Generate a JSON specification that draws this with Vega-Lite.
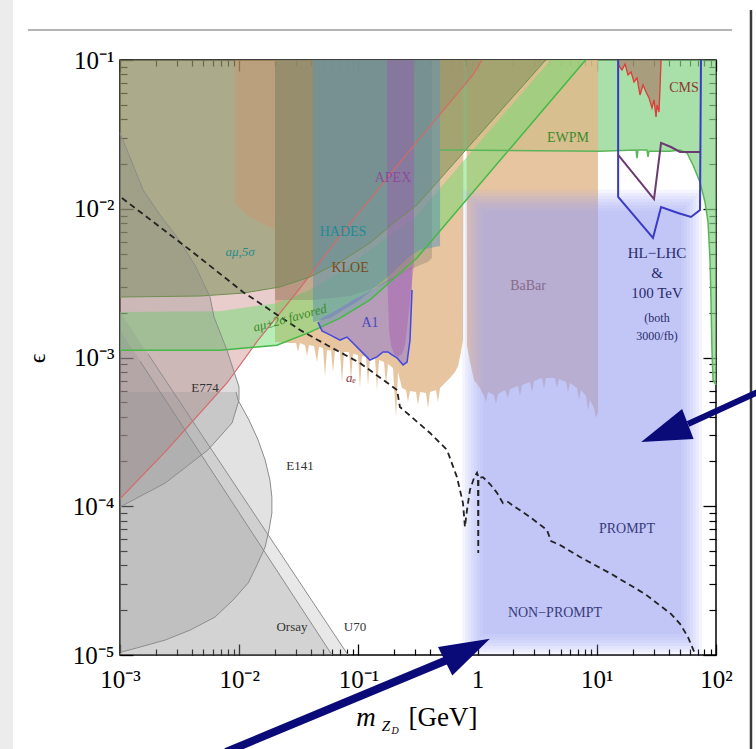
{
"$schema":"https://vega.github.io/schema/vega-lite/v6.json",
"width":596,"height":595,
"autosize":{"type":"none"},
"padding":{"left":120,"top":60,"right":40,"bottom":94},
"background":"white",
"config":{
 "view":{"stroke":"#000","strokeWidth":1.5},
 "axis":{"domain":false,"grid":false,"tickColor":"#000","labelFont":"Liberation Serif","labelColor":"#000","titleFont":"Liberation Serif","titleColor":"#000","titleFontWeight":"normal"},
 "text":{"font":"Liberation Serif"}
},
"datasets":{
 "ewpm":[{"m":0.484,"e":0.0248,"e2":0.1},{"m":10.6,"e":0.0244,"e2":0.1},{"m":21.33,"e":0.0248,"e2":0.1},{"m":21.75,"e":0.0219,"e2":0.1},{"m":22.16,"e":0.0248,"e2":0.1},{"m":26.37,"e":0.0248,"e2":0.1},{"m":26.89,"e":0.0223,"e2":0.1},{"m":27.42,"e":0.0244,"e2":0.1},{"m":41.1,"e":0.0244,"e2":0.1},{"m":49.9,"e":0.0248,"e2":0.1},{"m":57.1,"e":0.0237,"e2":0.1},{"m":64.1,"e":0.0197,"e2":0.1},{"m":73.4,"e":0.0151,"e2":0.1},{"m":80.8,"e":0.0111,"e2":0.1},{"m":85.7,"e":0.00815,"e2":0.1},{"m":89.1,"e":0.00452,"e2":0.1},{"m":90.8,"e":0.00244,"e2":0.1},{"m":92.5,"e":0.00112,"e2":0.1},{"m":94.4,"e":0.000706,"e2":0.1},{"m":100,"e":0.000654,"e2":0.1}],
 "babar":[{"m":0.01996,"e":0.00127,"e2":0.1},{"m":0.02668,"e":0.00125,"e2":0.1},{"m":0.02996,"e":0.00125,"e2":0.1},{"m":0.03113,"e":0.00109,"e2":0.1},{"m":0.03236,"e":0.00125,"e2":0.1},{"m":0.03565,"e":0.00121,"e2":0.1},{"m":0.03706,"e":0.001023,"e2":0.1},{"m":0.03852,"e":0.00121,"e2":0.1},{"m":0.04242,"e":0.001195,"e2":0.1},{"m":0.04495,"e":0.000933,"e2":0.1},{"m":0.04672,"e":0.00118,"e2":0.1},{"m":0.05047,"e":0.00116,"e2":0.1},{"m":0.05246,"e":0.000751,"e2":0.1},{"m":0.05452,"e":0.00112,"e2":0.1},{"m":0.0589,"e":0.00112,"e2":0.1},{"m":0.06122,"e":0.000799,"e2":0.1},{"m":0.06363,"e":0.001106,"e2":0.1},{"m":0.07008,"e":0.001106,"e2":0.1},{"m":0.07284,"e":0.000674,"e2":0.1},{"m":0.07571,"e":0.00109,"e2":0.1},{"m":0.08338,"e":0.00109,"e2":0.1},{"m":0.08667,"e":0.000706,"e2":0.1},{"m":0.09008,"e":0.001055,"e2":0.1},{"m":0.09922,"e":0.00104,"e2":0.1},{"m":0.1031,"e":0.000624,"e2":0.1},{"m":0.1072,"e":0.001023,"e2":0.1},{"m":0.1158,"e":0.00101,"e2":0.1},{"m":0.1204,"e":0.000654,"e2":0.1},{"m":0.1251,"e":0.000993,"e2":0.1},{"m":0.1378,"e":0.000993,"e2":0.1},{"m":0.1432,"e":0.000605,"e2":0.1},{"m":0.1489,"e":0.000962,"e2":0.1},{"m":0.164,"e":0.000933,"e2":0.1},{"m":0.1704,"e":0.000654,"e2":0.1},{"m":0.1771,"e":0.000904,"e2":0.1},{"m":0.1951,"e":0.00085,"e2":0.1},{"m":0.2068,"e":0.000392,"e2":0.1},{"m":0.2149,"e":0.000799,"e2":0.1},{"m":0.2322,"e":0.000624,"e2":0.1},{"m":0.2507,"e":0.000605,"e2":0.1},{"m":0.2607,"e":0.000502,"e2":0.1},{"m":0.2709,"e":0.000595,"e2":0.1},{"m":0.3042,"e":0.000587,"e2":0.1},{"m":0.3162,"e":0.00048,"e2":0.1},{"m":0.3287,"e":0.000587,"e2":0.1},{"m":0.369,"e":0.000577,"e2":0.1},{"m":0.3835,"e":0.000458,"e2":0.1},{"m":0.3987,"e":0.000587,"e2":0.1},{"m":0.4477,"e":0.000605,"e2":0.1},{"m":0.4654,"e":0.000502,"e2":0.1},{"m":0.4837,"e":0.000624,"e2":0.1},{"m":0.5431,"e":0.000684,"e2":0.1},{"m":0.587,"e":0.000728,"e2":0.1},{"m":0.6464,"e":0.000799,"e2":0.1},{"m":0.685,"e":0.000877,"e2":0.1},{"m":0.7258,"e":0.00109,"e2":0.1},{"m":0.7544,"e":0.00131,"e2":0.1},{"m":0.7617,"e":0.1,"e2":0.1},{"m":0.807,"e":0.1,"e2":0.1},{"m":0.8148,"e":0.00121,"e2":0.1},{"m":0.8637,"e":0.000933,"e2":0.1},{"m":0.9329,"e":0.000706,"e2":0.1},{"m":0.9885,"e":0.000663,"e2":0.1},{"m":1.047,"e":0.000624,"e2":0.1},{"m":1.132,"e":0.000551,"e2":0.1},{"m":1.176,"e":0.000502,"e2":0.1},{"m":1.222,"e":0.000587,"e2":0.1},{"m":1.372,"e":0.00056,"e2":0.1},{"m":1.426,"e":0.000487,"e2":0.1},{"m":1.483,"e":0.000568,"e2":0.1},{"m":1.698,"e":0.000605,"e2":0.1},{"m":1.799,"e":0.000535,"e2":0.1},{"m":1.87,"e":0.000614,"e2":0.1},{"m":2.183,"e":0.000643,"e2":0.1},{"m":2.268,"e":0.000551,"e2":0.1},{"m":2.358,"e":0.000654,"e2":0.1},{"m":2.752,"e":0.000684,"e2":0.1},{"m":2.861,"e":0.000587,"e2":0.1},{"m":2.974,"e":0.000695,"e2":0.1},{"m":3.47,"e":0.000728,"e2":0.1},{"m":3.606,"e":0.000614,"e2":0.1},{"m":3.748,"e":0.000728,"e2":0.1},{"m":4.46,"e":0.000728,"e2":0.1},{"m":4.636,"e":0.000624,"e2":0.1},{"m":4.819,"e":0.000717,"e2":0.1},{"m":5.515,"e":0.000684,"e2":0.1},{"m":5.734,"e":0.000587,"e2":0.1},{"m":5.96,"e":0.000674,"e2":0.1},{"m":6.823,"e":0.000624,"e2":0.1},{"m":7.092,"e":0.000518,"e2":0.1},{"m":7.37,"e":0.000605,"e2":0.1},{"m":8.119,"e":0.000551,"e2":0.1},{"m":8.439,"e":0.000444,"e2":0.1},{"m":8.77,"e":0.000518,"e2":0.1},{"m":9.474,"e":0.000458,"e2":0.1},{"m":9.847,"e":0.000392,"e2":0.1},{"m":10.23,"e":0.00043,"e2":0.1}],
 "pink":[{"m":0.001,"e":0.000112,"e2":0.1},{"m":0.00248,"e":0.000239,"e2":0.1},{"m":0.0079,"e":0.000674,"e2":0.1},{"m":0.0144,"e":0.00131,"e2":0.1},{"m":0.0305,"e":0.00275,"e2":0.1},{"m":0.0701,"e":0.00656,"e2":0.1},{"m":0.271,"e":0.0248,"e2":0.1},{"m":0.914,"e":0.0793,"e2":0.1},{"m":1.089,"e":0.1,"e2":0.1}],
 "olive":[{"m":0.001,"e":0.00255,"e2":0.1},{"m":0.00469,"e":0.00259,"e2":0.1},{"m":0.0108,"e":0.00271,"e2":0.1},{"m":0.022,"e":0.00298,"e2":0.1},{"m":0.0393,"e":0.00348,"e2":0.1},{"m":0.0701,"e":0.00438,"e2":0.1},{"m":0.125,"e":0.00589,"e2":0.1},{"m":0.203,"e":0.00815,"e2":0.1},{"m":0.31,"e":0.0106,"e2":0.1},{"m":3.54,"e":0.0955,"e2":0.1},{"m":3.75,"e":0.1,"e2":0.1}],
 "tan":[{"m":0.00923,"e":0.01094,"e2":0.1},{"m":0.0123,"e":0.0088,"e2":0.1},{"m":0.02,"e":0.0072,"e2":0.1}],
 "favored":[{"m":0.001,"e":0.00112,"e2":0.00202},{"m":0.0069,"e":0.00112,"e2":0.00205},{"m":0.0207,"e":0.00121,"e2":0.00232},{"m":0.0393,"e":0.00148,"e2":0.00284},{"m":0.0701,"e":0.00184,"e2":0.00376},{"m":0.125,"e":0.00244,"e2":0.00528},{"m":0.31,"e":0.00467,"e2":0.00908},{"m":3.9,"e":0.0506,"e2":0.0955},{"m":4.05,"e":0.0524,"e2":0.1},{"m":7.66,"e":0.0955,"e2":0.1},{"m":8.11,"e":0.1,"e2":0.1}],
 "kloe":[{"m":0.02,"e":0.00244,"e2":0.1},{"m":0.0416,"e":0.00244,"e2":0.1},{"m":0.0851,"e":0.00259,"e2":0.1},{"m":0.152,"e":0.00303,"e2":0.1},{"m":0.246,"e":0.00376,"e2":0.1},{"m":0.329,"e":0.00418,"e2":0.1},{"m":0.3835,"e":0.00438,"e2":0.1},{"m":0.414,"e":0.00467,"e2":0.1}],
 "hades":[{"m":0.0416,"e":0.00173,"e2":0.1},{"m":0.0578,"e":0.00184,"e2":0.1},{"m":0.103,"e":0.00244,"e2":0.1},{"m":0.184,"e":0.00359,"e2":0.1},{"m":0.271,"e":0.00481,"e2":0.1},{"m":0.329,"e":0.00528,"e2":0.1},{"m":0.484,"e":0.00562,"e2":0.1}],
 "a1":[{"m":0.0458,"e":0.00173,"e2":0.00173},{"m":0.0495,"e":0.00151,"e2":0.00184},{"m":0.0578,"e":0.00142,"e2":0.00196},{"m":0.0701,"e":0.00131,"e2":0.00215},{"m":0.0803,"e":0.00137,"e2":0.00229},{"m":0.0901,"e":0.00125,"e2":0.00244},{"m":0.1093,"e":0.00107,"e2":0.00263},{"m":0.125,"e":0.000962,"e2":0.0028},{"m":0.1432,"e":0.00101,"e2":0.00298},{"m":0.1608,"e":0.00109,"e2":0.00317},{"m":0.1771,"e":0.00109,"e2":0.00332},{"m":0.1914,"e":0.00104,"e2":0.00342},{"m":0.211,"e":0.000993,"e2":0.00353},{"m":0.237,"e":0.000891,"e2":0.00376},{"m":0.256,"e":0.000933,"e2":0.00388},{"m":0.271,"e":0.00131,"e2":0.004},{"m":0.2817,"e":0.00284,"e2":0.00412}],
 "apex":[{"m":0.174,"e":0.00388,"e2":0.1},{"m":0.1806,"e":0.00153,"e2":0.1},{"m":0.1877,"e":0.00121,"e2":0.1},{"m":0.1989,"e":0.001055,"e2":0.1},{"m":0.2149,"e":0.00101,"e2":0.1},{"m":0.2322,"e":0.001055,"e2":0.1},{"m":0.246,"e":0.00121,"e2":0.1},{"m":0.2607,"e":0.00179,"e2":0.1},{"m":0.276,"e":0.00284,"e2":0.1},{"m":0.2927,"e":0.00418,"e2":0.1}],
 "cms":[{"m":15.1,"e":0.1,"e2":0.1},{"m":15.36,"e":0.0911,"e2":0.1},{"m":16.27,"e":0.0857,"e2":0.1},{"m":17.25,"e":0.094,"e2":0.1},{"m":18.28,"e":0.0793,"e2":0.1},{"m":19.37,"e":0.083,"e2":0.1},{"m":20.53,"e":0.0711,"e2":0.1},{"m":21.75,"e":0.0757,"e2":0.1},{"m":23.03,"e":0.0582,"e2":0.1},{"m":24.43,"e":0.0679,"e2":0.1},{"m":25.88,"e":0.0609,"e2":0.1},{"m":27.42,"e":0.0556,"e2":0.1},{"m":29.05,"e":0.0476,"e2":0.1},{"m":30.2,"e":0.0539,"e2":0.1},{"m":31.4,"e":0.0414,"e2":0.1},{"m":32.0,"e":0.0498,"e2":0.1},{"m":33.25,"e":0.0447,"e2":0.1},{"m":33.9,"e":0.0648,"e2":0.1},{"m":34.6,"e":0.1,"e2":0.1}],
 "e774":[{"e":0.0323,"m":0.001,"m0":0.001},{"e":0.0213,"m":0.001237,"m0":0.001},{"e":0.0134,"m":0.00156,"m0":0.001},{"e":0.00908,"m":0.002166,"m0":0.001},{"e":0.00646,"m":0.00301,"m0":0.001},{"e":0.00418,"m":0.00426,"m0":0.001},{"e":0.00255,"m":0.00569,"m0":0.001},{"e":0.00187,"m":0.00615,"m0":0.001},{"e":0.00112,"m":0.0079,"m0":0.001},{"e":0.000634,"m":0.00996,"m0":0.001},{"e":0.000518,"m":0.00996,"m0":0.001},{"e":0.000363,"m":0.00871,"m0":0.001},{"e":0.000239,"m":0.00547,"m0":0.001},{"e":0.000143,"m":0.00239,"m0":0.001},{"e":0.0000988,"m":0.001,"m0":0.001}],
 "e141":[{"e":0.000587,"m":0.0094,"m0":0.001},{"e":0.000518,"m":0.00977,"m0":0.001},{"e":0.00038,"m":0.01208,"m0":0.001},{"e":0.000279,"m":0.0144,"m0":0.001},{"e":0.000205,"m":0.0165,"m0":0.001},{"e":0.00015,"m":0.0181,"m0":0.001},{"e":0.000115,"m":0.0188,"m0":0.001},{"e":0.0000901,"m":0.0188,"m0":0.001},{"e":0.0000692,"m":0.01778,"m0":0.001},{"e":0.0000532,"m":0.0165,"m0":0.001},{"e":0.0000403,"m":0.0141,"m0":0.001},{"e":0.0000305,"m":0.0119,"m0":0.001},{"e":0.0000234,"m":0.00887,"m0":0.001},{"e":0.000018,"m":0.00627,"m0":0.001},{"e":0.0000147,"m":0.00387,"m0":0.001},{"e":0.0000126,"m":0.00239,"m0":0.001},{"e":0.0000113,"m":0.00147,"m0":0.001},{"e":0.0000105,"m":0.00104,"m0":0.001},{"e":0.00001016,"m":0.001,"m0":0.001}],
 "orsay":[{"m":0.001,"e":0.00001,"e2":0.00153},{"m":0.0601,"e":0.00001,"e2":0.00001}],
 "u70":[{"m":0.001,"e":0.00001,"e2":0.00202},{"m":0.0818,"e":0.00001,"e2":0.00001}],
 "grayLines":[{"m":0.00147,"e":0.000947,"g":"o"},{"m":0.0601,"e":0.00001,"g":"o"},{"m":0.00172,"e":0.001055,"g":"u"},{"m":0.0818,"e":0.00001,"g":"u"}],
 "prompt":[{"m":0.739,"m2":76.3,"e":0.00001,"e2":0.0134},{"m":0.783,"m2":72.0,"e":0.0000105,"e2":0.01276},{"m":0.83,"m2":67.9,"e":0.00001097,"e2":0.01219},{"m":0.88,"m2":64.1,"e":0.00001149,"e2":0.01163},{"m":0.933,"m2":60.5,"e":0.00001205,"e2":0.0111},{"m":0.989,"m2":57.1,"e":0.0000126,"e2":0.0106},{"m":1.047,"m2":53.9,"e":0.0000132,"e2":0.01012},{"m":1.109,"m2":50.9,"e":0.00001384,"e2":0.00966}],
 "hlblue":[{"i":0,"m":15.1,"e":0.1},{"i":1,"m":15.1,"e":0.012},{"i":2,"m":29.6,"e":0.00636},{"i":3,"m":34.6,"e":0.01028},{"i":4,"m":48.0,"e":0.00936},{"i":5,"m":61.7,"e":0.0088},{"i":6,"m":73.4,"e":0.00981},{"i":7,"m":74.8,"e":0.1}],
 "hlpurple":[{"i":0,"m":15.1,"e":0.023},{"i":1,"m":30.2,"e":0.0116},{"i":2,"m":34.6,"e":0.0277},{"i":3,"m":41.9,"e":0.026},{"i":4,"m":49.9,"e":0.0241},{"i":5,"m":73.4,"e":0.0241}],
 "dashed":[{"i":0,"m":0.001039,"e":0.0118},{"i":1,"m":0.00387,"e":0.00528},{"i":2,"m":0.0108,"e":0.00275},{"i":3,"m":0.0324,"e":0.00153},{"i":4,"m":0.0578,"e":0.00118},{"i":5,"m":0.103,"e":0.000919},{"i":6,"m":0.211,"e":0.000605},{"i":7,"m":0.223,"e":0.000465},{"i":8,"m":0.399,"e":0.000311},{"i":9,"m":0.554,"e":0.000239},{"i":10,"m":0.671,"e":0.000157},{"i":11,"m":0.754,"e":0.000105},{"i":12,"m":0.783,"e":0.0000726},{"i":13,"m":0.815,"e":0.0000944},{"i":14,"m":0.863,"e":0.000129},{"i":15,"m":0.933,"e":0.000155},{"i":16,"m":0.989,"e":0.000168},{"i":17,"m":1.007,"e":0.00016},{"i":18,"m":1.013,"e":0.0000485},{"i":19,"m":1.017,"e":0.000155},{"i":20,"m":1.109,"e":0.000157},{"i":21,"m":1.27,"e":0.000141},{"i":22,"m":1.455,"e":0.000123},{"i":23,"m":1.633,"e":0.000105},{"i":24,"m":1.799,"e":0.000107},{"i":25,"m":1.945,"e":0.000102},{"i":26,"m":2.75,"e":0.0000847},{"i":27,"m":3.82,"e":0.0000692},{"i":28,"m":4.13,"e":0.0000584},{"i":29,"m":4.91,"e":0.0000549},{"i":30,"m":7.23,"e":0.0000456},{"i":31,"m":13.2,"e":0.0000351},{"i":32,"m":25.4,"e":0.0000257},{"i":33,"m":41.9,"e":0.0000189},{"i":34,"m":49.9,"e":0.0000162},{"i":35,"m":58.2,"e":0.0000132},{"i":36,"m":66.7,"e":0.00001016}],
 "labels":[{"m":53.9,"e":0.0648,"t":"CMS","c":"#8b3a2e","s":14},{"m":5.73,"e":0.0299,"t":"EWPM","c":"#3c8c2c","s":14},{"m":0.1951,"e":0.0161,"t":"APEX","c":"#8a4c9a","s":14},{"m":0.0743,"e":0.00698,"t":"HADES","c":"#1f8a96","s":14},{"m":0.0851,"e":0.004,"t":"KLOE","c":"#7a4a1a","s":14},{"m":0.125,"e":0.00171,"t":"A1","c":"#4848c0","s":14},{"m":2.65,"e":0.00303,"t":"BaBar","c":"#8a6a8a","s":14},{"m":0.00517,"e":0.000624,"t":"E774","c":"#333333","s":13},{"m":0.0324,"e":0.000187,"t":"E141","c":"#333333","s":13},{"m":0.0277,"e":0.0000154,"t":"Orsay","c":"#333333","s":13},{"m":0.0936,"e":0.0000154,"t":"U70","c":"#333333","s":13},{"m":32.0,"e":0.00504,"t":"HL−LHC","c":"#2a2a6a","s":15},{"m":32.0,"e":0.0037,"t":"&","c":"#2a2a6a","s":15},{"m":32.0,"e":0.00271,"t":"100 TeV","c":"#2a2a6a","s":15},{"m":32.0,"e":0.00184,"t":"(both","c":"#2a2a6a","s":12},{"m":32.0,"e":0.00139,"t":"3000/fb)","c":"#2a2a6a","s":12},{"m":17.9,"e":0.0000704,"t":"PROMPT","c":"#3a3a7a","s":14},{"m":4.46,"e":0.0000192,"t":"NON−PROMPT","c":"#3a3a7a","s":14}],
 "italics":[{"m":0.01016,"e":0.00512,"t":"aμ,5σ","c":"#2a8a8a","s":13,"a":0},{"m":0.0267,"e":0.00184,"t":"aμ±2σ favored","c":"#3a8a2a","s":13,"a":-15},{"m":0.0867,"e":0.000728,"t":"aₑ","c":"#8b3a3a","s":13,"a":0}],
 "xtitleIt":[{"m":0.1158,"e":0.00000333,"t":"m","s":27},{"m":0.1704,"e":0.00000308,"t":"Z","s":15},{"m":0.203,"e":0.00000294,"t":"D","s":10}],
 "xtitleReg":[{"m":0.5125,"e":0.00000333,"t":"[GeV]","s":27}],
 "deco":[{"m":0.000169,"m2":136,"e":0.159,"e2":0.159,"c":"#b4b4b4","w":2},{"m":196.6,"m2":196.6,"e":0.217,"e2":0.00000233,"c":"#3a3a3a","w":2.5},{"m":0.0001116,"m2":0.0001116,"e":0.253,"e2":0.00000233,"c":"#ececec","w":13}],
 "shafts":[{"m":234,"m2":58.2,"e":0.000595,"e2":0.000357,"w":6},{"m":0.00775,"m2":0.554,"e":0.00000223,"e2":0.00000926,"w":8}],
 "heads":[{"m":37.0,"e":0.000311,"a":249},{"m":0.823,"e":0.0000108,"a":63.4}],
 "dummy":[{"m":1,"e":0.001}]
},
"encoding":{
 "x":{"field":"m","type":"quantitative","scale":{"type":"log","domain":[0.001,100],"nice":false},"axis":null},
 "y":{"field":"e","type":"quantitative","stack":null,"scale":{"type":"log","domain":[0.00001,0.1],"nice":false},"axis":null}
},
"layer":[
 {"data":{"name":"ewpm"},"mark":{"type":"area","orient":"vertical","color":"#84d184","opacity":0.7},"encoding":{"y2":{"field":"e2"}}},
 {"data":{"name":"babar"},"mark":{"type":"area","orient":"vertical","color":"#e2b68a","opacity":0.8},"encoding":{"y2":{"field":"e2"}}},
 {"data":{"name":"pink"},"mark":{"type":"area","orient":"vertical","color":"#c88080","opacity":0.4},"encoding":{"y2":{"field":"e2"}}},
 {"data":{"name":"olive"},"mark":{"type":"area","orient":"vertical","color":"#7b9158","opacity":0.57},"encoding":{"y2":{"field":"e2"}}},
 {"data":{"name":"tan"},"mark":{"type":"area","orient":"vertical","color":"#d89060","opacity":0.35},"encoding":{"y2":{"field":"e2"}}},
 {"data":{"name":"favored"},"mark":{"type":"area","orient":"vertical","color":"#6fdc6f","opacity":0.5},"encoding":{"y2":{"field":"e2"}}},
 {"data":{"name":"kloe"},"mark":{"type":"area","orient":"vertical","color":"#7d7566","opacity":0.35},"encoding":{"y2":{"field":"e2"}}},
 {"data":{"name":"hades"},"mark":{"type":"area","orient":"vertical","color":"#5e94b0","opacity":0.55},"encoding":{"y2":{"field":"e2"}}},
 {"data":{"name":"a1"},"mark":{"type":"area","orient":"vertical","color":"#7a6ad8","opacity":0.45},"encoding":{"y2":{"field":"e2"}}},
 {"data":{"name":"apex"},"mark":{"type":"area","orient":"vertical","color":"#a050b0","opacity":0.38},"encoding":{"y2":{"field":"e2"}}},
 {"data":{"name":"cms"},"mark":{"type":"area","orient":"vertical","color":"#a87a66","opacity":0.65},"encoding":{"y2":{"field":"e2"}}},
 {"data":{"name":"e774"},"mark":{"type":"area","orient":"horizontal","color":"#858585","opacity":0.28},"encoding":{"x":{"field":"m0","type":"quantitative","stack":null,"scale":{"type":"log","domain":[0.001,100],"nice":false},"axis":null},"x2":{"field":"m"}}},
 {"data":{"name":"e141"},"mark":{"type":"area","orient":"horizontal","color":"#8a8a8a","opacity":0.25},"encoding":{"x":{"field":"m0","type":"quantitative","stack":null,"scale":{"type":"log","domain":[0.001,100],"nice":false},"axis":null},"x2":{"field":"m"}}},
 {"data":{"name":"orsay"},"mark":{"type":"area","orient":"vertical","color":"#8a8a8a","opacity":0.22},"encoding":{"y2":{"field":"e2"}}},
 {"data":{"name":"u70"},"mark":{"type":"area","orient":"vertical","color":"#8a8a8a","opacity":0.2},"encoding":{"y2":{"field":"e2"}}},
 {"data":{"name":"prompt"},"mark":{"type":"rect","color":"#9ea3f6","opacity":0.11},"encoding":{"x2":{"field":"m2"},"y2":{"field":"e2"}}},
 {"data":{"name":"pink"},"mark":{"type":"line","color":"#d46a6a","strokeWidth":1.2},"encoding":{}},
 {"data":{"name":"olive"},"mark":{"type":"line","color":"#6f8f4f","strokeWidth":1},"encoding":{}},
 {"data":{"name":"favored"},"mark":{"type":"line","color":"#45b845","strokeWidth":1.5},"encoding":{}},
 {"data":{"name":"a1"},"mark":{"type":"line","color":"#4646e0","strokeWidth":1.5},"encoding":{}},
 {"data":{"name":"ewpm"},"mark":{"type":"line","color":"#5ab55a","strokeWidth":1.5},"encoding":{}},
 {"data":{"name":"cms"},"mark":{"type":"line","color":"#e03a3a","strokeWidth":1.3},"encoding":{}},
 {"data":{"name":"e774"},"mark":{"type":"line","color":"#8c8c8c","strokeWidth":1},"encoding":{"order":{"field":"e","type":"quantitative"}}},
 {"data":{"name":"e141"},"mark":{"type":"line","color":"#8c8c8c","strokeWidth":1},"encoding":{"order":{"field":"e","type":"quantitative"}}},
 {"data":{"name":"grayLines"},"mark":{"type":"line","color":"#8c8c8c","strokeWidth":1},"encoding":{"detail":{"field":"g","type":"nominal"}}},
 {"data":{"name":"hlblue"},"mark":{"type":"line","color":"#3a3ac4","strokeWidth":2},"encoding":{"order":{"field":"i","type":"quantitative"}}},
 {"data":{"name":"hlpurple"},"mark":{"type":"line","color":"#6a3a70","strokeWidth":2},"encoding":{"order":{"field":"i","type":"quantitative"}}},
 {"data":{"name":"dashed"},"mark":{"type":"line","color":"#222222","strokeWidth":1.8,"strokeDash":[6,4]},"encoding":{"order":{"field":"i","type":"quantitative"}}},
 {"data":{"name":"labels"},"mark":{"type":"text","align":"center","baseline":"middle","font":"Liberation Serif"},"encoding":{"text":{"field":"t"},"color":{"field":"c","type":"nominal","scale":null},"size":{"field":"s","type":"quantitative","scale":null}}},
 {"data":{"name":"italics"},"mark":{"type":"text","align":"center","baseline":"middle","font":"Liberation Serif","fontStyle":"italic"},"encoding":{"text":{"field":"t"},"color":{"field":"c","type":"nominal","scale":null},"size":{"field":"s","type":"quantitative","scale":null},"angle":{"field":"a","type":"quantitative","scale":null}}},
 {"data":{"name":"xtitleIt"},"mark":{"type":"text","align":"center","baseline":"alphabetic","font":"Liberation Serif","fontStyle":"italic","color":"#000"},"encoding":{"text":{"field":"t"},"size":{"field":"s","type":"quantitative","scale":null}}},
 {"data":{"name":"xtitleReg"},"mark":{"type":"text","align":"center","baseline":"alphabetic","font":"Liberation Serif","color":"#000"},"encoding":{"text":{"field":"t"},"size":{"field":"s","type":"quantitative","scale":null}}},
 {"data":{"name":"dummy"},"mark":{"type":"point","opacity":0},"encoding":{
   "x":{"field":"m","type":"quantitative","scale":{"type":"log","domain":[0.001,100],"nice":false},"axis":{"orient":"bottom","values":[0.001,0.01,0.1,1,10,100],"tickSize":-11,"tickWidth":1.3,"labelFontSize":25,"labelPadding":23,"labelFlush":false,"labelOverlap":false,"labelExpr":"datum.value < 0.002 ? '10⁻³' : datum.value < 0.02 ? '10⁻²' : datum.value < 0.2 ? '10⁻¹' : datum.value < 2 ? '1' : datum.value < 20 ? '10¹' : '10²'","title":null}},
   "y":{"field":"e","type":"quantitative","stack":null,"scale":{"type":"log","domain":[0.00001,0.1],"nice":false},"axis":{"orient":"left","values":[0.00001,0.0001,0.001,0.01,0.1],"tickSize":-13,"tickWidth":1.3,"labelFontSize":25,"labelPadding":19,"labelFlush":false,"labelOverlap":false,"labelExpr":"datum.value < 0.00002 ? '10⁻⁵' : datum.value < 0.0002 ? '10⁻⁴' : datum.value < 0.002 ? '10⁻³' : datum.value < 0.02 ? '10⁻²' : '10⁻¹'","title":"ϵ","titleFontSize":24,"titleX":-83,"titleY":298,"titleAngle":-90,"titleAlign":"center","titleBaseline":"middle"}}}},
 {"data":{"name":"dummy"},"mark":{"type":"point","opacity":0},"encoding":{
   "x":{"field":"m","type":"quantitative","scale":{"type":"log","domain":[0.001,100],"nice":false},"axis":{"orient":"bottom","values":[0.002,0.003,0.004,0.005,0.006,0.007,0.008,0.009,0.02,0.03,0.04,0.05,0.06,0.07,0.08,0.09,0.2,0.3,0.4,0.5,0.6,0.7,0.8,0.9,2,3,4,5,6,7,8,9,20,30,40,50,60,70,80,90],"tickSize":-6,"tickWidth":1.2,"labels":false,"title":null}},
   "y":{"field":"e","type":"quantitative","stack":null,"scale":{"type":"log","domain":[0.00001,0.1],"nice":false},"axis":{"orient":"left","values":[0.00002,0.00003,0.00004,0.00005,0.00006,0.00007,0.00008,0.00009,0.0002,0.0003,0.0004,0.0005,0.0006,0.0007,0.0008,0.0009,0.002,0.003,0.004,0.005,0.006,0.007,0.008,0.009,0.02,0.03,0.04,0.05,0.06,0.07,0.08,0.09],"tickSize":-7,"tickWidth":1.2,"labels":false,"title":null}}}},
 {"data":{"name":"dummy"},"mark":{"type":"point","opacity":0},"encoding":{
   "x":{"field":"m","type":"quantitative","scale":{"type":"log","domain":[0.001,100],"nice":false},"axis":{"orient":"top","values":[0.001,0.01,0.1,1,10,100],"tickSize":-11,"tickWidth":1.3,"labels":false,"title":null}},
   "y":{"field":"e","type":"quantitative","stack":null,"scale":{"type":"log","domain":[0.00001,0.1],"nice":false},"axis":{"orient":"right","values":[0.00001,0.0001,0.001,0.01,0.1],"tickSize":-13,"tickWidth":1.3,"labels":false,"title":null}}}},
 {"data":{"name":"dummy"},"mark":{"type":"point","opacity":0},"encoding":{
   "x":{"field":"m","type":"quantitative","scale":{"type":"log","domain":[0.001,100],"nice":false},"axis":{"orient":"top","values":[0.002,0.003,0.004,0.005,0.006,0.007,0.008,0.009,0.02,0.03,0.04,0.05,0.06,0.07,0.08,0.09,0.2,0.3,0.4,0.5,0.6,0.7,0.8,0.9,2,3,4,5,6,7,8,9,20,30,40,50,60,70,80,90],"tickSize":-6,"tickWidth":1.2,"labels":false,"title":null}},
   "y":{"field":"e","type":"quantitative","stack":null,"scale":{"type":"log","domain":[0.00001,0.1],"nice":false},"axis":{"orient":"right","values":[0.00002,0.00003,0.00004,0.00005,0.00006,0.00007,0.00008,0.00009,0.0002,0.0003,0.0004,0.0005,0.0006,0.0007,0.0008,0.0009,0.002,0.003,0.004,0.005,0.006,0.007,0.008,0.009,0.02,0.03,0.04,0.05,0.06,0.07,0.08,0.09],"tickSize":-7,"tickWidth":1.2,"labels":false,"title":null}}}},
 {"data":{"name":"deco"},"mark":{"type":"rule"},"encoding":{"x2":{"field":"m2"},"y2":{"field":"e2"},"color":{"field":"c","type":"nominal","scale":null},"strokeWidth":{"field":"w","type":"quantitative","scale":null}}},
 {"data":{"name":"shafts"},"mark":{"type":"rule","color":"#0a0a78","strokeCap":"butt"},"encoding":{"x2":{"field":"m2"},"y2":{"field":"e2"},"strokeWidth":{"field":"w","type":"quantitative","scale":null}}},
 {"data":{"name":"heads"},"mark":{"type":"point","shape":"M0,-1L0.64,1L-0.64,1Z","size":2500,"filled":true,"opacity":1,"color":"#0a0a78"},"encoding":{"angle":{"field":"a","type":"quantitative","scale":null}}}
],
"resolve":{"axis":{"x":"independent","y":"independent"}}
}
